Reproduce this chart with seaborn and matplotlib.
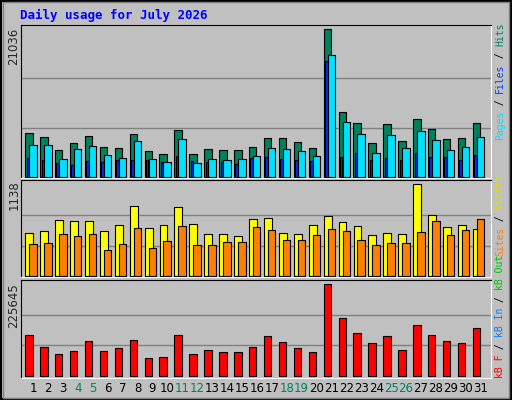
import numpy as np
import pandas as pd
import matplotlib
matplotlib.use("Agg")
import matplotlib.pyplot as plt
import seaborn as sns
from matplotlib.patches import Rectangle

# --- dane ---
days = np.arange(1, 32)
hits = [6187, 5616, 3760, 4759, 5758, 4188, 4045, 6044, 3617, 3189, 6615, 3189, 3902, 3760, 3760, 4188,
        5473, 5473, 4902, 4045, 21036, 9185, 7614, 4759, 7472, 5045, 8185, 6758, 5330, 5473, 7614]
files = [4473, 4473, 2475, 3902, 4331, 3046, 2617, 5045, 2475, 2046, 5330, 1904, 2475, 2332, 2475, 2903,
         4045, 3902, 3617, 2903, 17323, 7757, 6044, 3331, 5901, 4045, 6472, 5187, 3760, 4188, 5616]
pages = [2617, 2332, 1904, 1618, 2189, 2046, 2332, 2332, 2332, 2046, 2903, 2189, 2046, 2046, 1761, 2617,
         2760, 2475, 2332, 2189, 16466, 2760, 3331, 2332, 2617, 2332, 3331, 2760, 2760, 2332, 3046]
visits = [532, 557, 693, 680, 680, 557, 631, 866, 594, 631, 853, 643, 519, 519, 495, 705,
          717, 532, 519, 631, 742, 668, 618, 507, 532, 519, 1138, 754, 606, 631, 581]
sites = [396, 408, 519, 495, 519, 322, 396, 594, 346, 433, 618, 383, 383, 421, 421, 606,
         569, 445, 445, 507, 581, 557, 445, 383, 408, 408, 544, 680, 507, 569, 705]
kbytes = [99281, 69743, 52512, 59897, 84512, 59897, 67281, 86973, 42666, 45128, 99281, 52512, 62358, 57435,
          57435, 69743, 96819, 82050, 67281, 57435, 225645, 141126, 104204, 79589, 96819, 62358, 123896,
          99281, 84512, 79589, 116511]
weekend = [4, 5, 11, 12, 18, 19, 25, 26]
title = "Daily usage for July 2026"

BG = "#C0C0C0"
GRID = "#808080"
W, H = 512, 400

sns.set_style("white")
plt.rcParams["font.family"] = ["DejaVu Sans"]

fig = plt.figure(figsize=(W / 100, H / 100), dpi=100, facecolor=BG)


def fy(px):
    return 1 - px / H


def make_ax(top_px, bot_px):
    ax = fig.add_axes([20.7 / W, fy(bot_px), 470 / W, (bot_px - top_px) / H])
    ax.set_facecolor(BG)
    return ax


def bars(ax, vals, offset, width, color):
    df = pd.DataFrame({"x": days + offset, "y": vals})
    sns.barplot(data=df, x="x", y="y", native_scale=True, width=width, color=color,
                edgecolor="black", linewidth=0.8, saturation=1, ax=ax, zorder=3)


def finish(ax, vmax, zero_px, top_px, panel_top, panel_bot):
    per_px = vmax / (zero_px - top_px)
    ax.set_ylim(-(panel_bot - zero_px) * per_px, vmax + (top_px - panel_top) * per_px)
    ax.set_xlim(0.18, 31.68)
    for k in (1, 2):
        ax.axhline(vmax * k / 3, color=GRID, lw=1, zorder=1)
    ax.set_xlabel("")
    ax.set_ylabel("")
    ax.set_yticks([])
    ax.set_xticks([])
    for s in ("left", "top"):
        ax.spines[s].set_color("black")
    for s in ("right", "bottom"):
        ax.spines[s].set_color("white")


# panel 1: hits / pages / files
ax1 = make_ax(25, 178)
bars(ax1, hits, -0.27, 0.5, "#00805C")
bars(ax1, pages, -0.34, 0.17, "#0030F0")
bars(ax1, files, 0.0, 0.5, "#00E0FF")
finish(ax1, max(hits), 176.7, 29.3, 25, 178)

# panel 2: visits / sites
ax2 = make_ax(180, 277.3)
bars(ax2, visits, -0.25, 0.53, "#FFFF00")
bars(ax2, sites, 0.0, 0.5, "#FF8000")
finish(ax2, max(visits), 276.3, 184.3, 180, 277.3)

# panel 3: kB
ax3 = make_ax(280.3, 377.7)
bars(ax3, kbytes, -0.27, 0.5, "#FF0000")
finish(ax3, max(kbytes), 375.7, 284, 280.3, 377.7)

# day labels
for d in days:
    fig.text((33 + (d - 1) * 14.92) / W, fy(388), str(d), ha="center", va="center", fontsize=8.5,
             color="#00805C" if d in weekend else "black")

# y max labels
for val, top in ((max(hits), 28), (max(visits), 180), (max(kbytes), 283)):
    fig.text(14 / W, fy(top), str(val), rotation=90, ha="center", va="top", fontsize=8.5)

# title
fig.text(20 / W, fy(15), title, ha="left", va="center", fontsize=9, fontweight="bold",
         color="#0000FF", family="DejaVu Sans Mono")

# right-side legends (multi-coloured, read bottom to top)
FS = 7
CH = 0.602 * FS * 100 / 72


def legend(parts, bottom_px):
    pos = bottom_px
    for txt, col in parts:
        fig.text(500 / W, fy(pos), txt, rotation=90, ha="center", va="bottom", fontsize=FS,
                 color=col, family="DejaVu Sans Mono")
        pos -= len(txt) * CH


legend([("Pages", "#00E0FF"), (" / ", "black"), ("Files", "#0040FF"), (" / ", "black"),
        ("Hits", "#00805C")], 140)
legend([("Sites", "#FF8000"), (" / ", "black"), ("Visits", "#E0E000")], 256)
legend([("kB F", "#FF0000"), (" / ", "black"), ("kB In", "#0080FF"), (" / ", "black"),
        ("kB Out", "#00C000")], 378)

# outer frame
fig.patches.append(Rectangle((0.002, 0.002), 0.996, 0.996, transform=fig.transFigure,
                             fill=False, edgecolor="black", lw=1.5))
fig.patches.append(Rectangle((0.006, 0.006), 0.988, 0.988, transform=fig.transFigure,
                             fill=False, edgecolor="#808080", lw=1))

fig.savefig("out.png", dpi=100, facecolor=BG)
